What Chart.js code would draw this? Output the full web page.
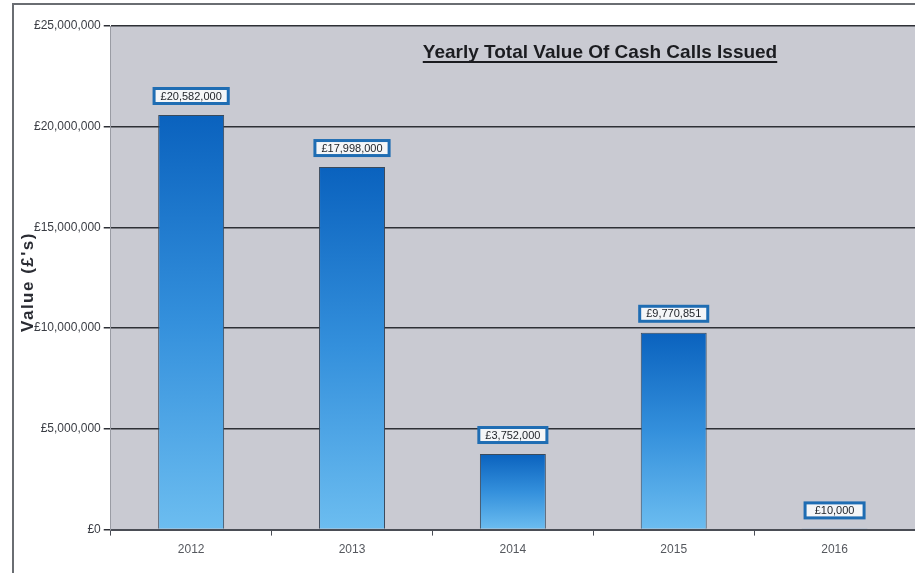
<!DOCTYPE html>
<html>
<head>
<meta charset="utf-8">
<script src="https://cdn.jsdelivr.net/npm/chart.js@4.4.1/dist/chart.umd.min.js"></script>
<style>
    html, body { margin: 0; padding: 0; background: #ffffff; }
    #wrap { width: 915px; height: 573px; position: relative; }
</style>
</head>
<body>
<div id="wrap"><canvas id="cashChart"></canvas></div>
<script>
const years = ['2012', '2013', '2014', '2015', '2016'];
const cashCallValues = [20582000, 17998000, 3752000, 9770851, 10000];
const yTicks = [0, 5000000, 10000000, 15000000, 20000000, 25000000];

const chartTitle = 'Yearly Total Value Of Cash Calls Issued';
const yAxisTitle = "Value (£'s)";

const narrowFont = '"Liberation Sans Narrow", "Arial Narrow", "Liberation Sans", Arial, sans-serif';

function money(v) {
    return '£' + v.toLocaleString('en-GB');
}

// frame, grey plot area, title and rotated axis label
const decorPlugin = {
    id: 'decor',
    beforeDraw(chart) {
        const ctx = chart.ctx;
        const a = chart.chartArea;
        ctx.save();
        ctx.strokeStyle = '#6a6d72';
        ctx.lineWidth = 2;
        ctx.beginPath();
        ctx.moveTo(13, chart.height);
        ctx.lineTo(13, 4);
        ctx.lineTo(chart.width, 4);
        ctx.stroke();
        ctx.fillStyle = '#c9cad2';
        ctx.fillRect(a.left, a.top, a.right - a.left, a.bottom - a.top);
        ctx.restore();
    },
    afterDraw(chart) {
        const ctx = chart.ctx;
        ctx.save();
        ctx.fillStyle = '#1b1c20';
        ctx.font = 'bold 19px ' + narrowFont;
        ctx.textAlign = 'center';
        ctx.textBaseline = 'alphabetic';
        const cx = 600, cy = 58;
        ctx.fillText(chartTitle, cx, cy);
        const w = ctx.measureText(chartTitle).width;
        ctx.fillRect(cx - w / 2, cy + 3, w, 2);

        ctx.translate(28, 282);
        ctx.rotate(-Math.PI / 2);
        ctx.font = 'bold 17px "Liberation Sans", Arial, sans-serif';
        ctx.letterSpacing = '1.5px';
        ctx.fillStyle = '#2a2c33';
        ctx.textBaseline = 'middle';
        ctx.fillText(yAxisTitle, 0, 0);
        ctx.restore();
    }
};

// boxed value labels above each bar
const labelPlugin = {
    id: 'valueLabels',
    afterDatasetsDraw(chart) {
        const ctx = chart.ctx;
        const meta = chart.getDatasetMeta(0);
        ctx.save();
        ctx.font = '11px ' + narrowFont;
        ctx.textAlign = 'center';
        ctx.textBaseline = 'middle';
        meta.data.forEach(function (bar, i) {
            const text = money(cashCallValues[i]);
            const w = Math.max(ctx.measureText(text).width + 16, 62);
            const h = 18;
            const cx = bar.x;
            const cy = bar.y - 19;
            ctx.fillStyle = '#1f6db3';
            ctx.fillRect(cx - w / 2, cy - h / 2, w, h);
            ctx.fillStyle = '#f4f6f8';
            ctx.fillRect(cx - w / 2 + 3, cy - h / 2 + 3, w - 6, h - 6);
            ctx.fillStyle = '#1c2026';
            ctx.fillText(text, cx, cy + 0.5);
        });
        ctx.restore();
    }
};

function barGradient(context) {
    const chart = context.chart;
    const a = chart.chartArea;
    if (!a || context.type !== 'data') return '#2a8bd8';
    const y = chart.scales.y;
    const top = y.getPixelForValue(context.raw);
    const bottom = y.getPixelForValue(0);
    if (bottom - top < 1) return '#0b63bf';
    const g = chart.ctx.createLinearGradient(0, top, 0, bottom);
    g.addColorStop(0, '#0a62be');
    g.addColorStop(0.5, '#3490dc');
    g.addColorStop(1, '#6cbdf0');
    return g;
}

new Chart(document.getElementById('cashChart'), {
    type: 'bar',
    data: {
        labels: years,
        datasets: [{
            data: cashCallValues,
            backgroundColor: barGradient,
            borderColor: '#3a4a5c',
            borderWidth: 1,
            categoryPercentage: 1,
            barPercentage: 0.41
        }]
    },
    options: {
        responsive: true,
        maintainAspectRatio: false,
        animation: false,
        layout: { padding: { top: 26, right: 0, left: 31, bottom: 9 } },
        plugins: {
            legend: { display: false },
            tooltip: { enabled: false }
        },
        scales: {
            x: {
                grid: {
                    offset: true,
                    drawOnChartArea: false,
                    tickLength: 6,
                    color: '#4a4d55'
                },
                border: { color: '#4a4d55', width: 2 },
                ticks: {
                    color: '#55585e',
                    font: { size: 12, family: '"Liberation Sans", Arial, sans-serif' },
                    padding: 7
                }
            },
            y: {
                min: 0,
                max: 25000000,
                afterBuildTicks(axis) {
                    axis.ticks = yTicks.map(function (v) { return { value: v }; });
                },
                grid: {
                    color: '#2e3036',
                    lineWidth: 1.5,
                    tickLength: 7
                },
                border: { color: '#9a9ca4', width: 1 },
                ticks: {
                    color: '#3a3d44',
                    font: { size: 12, family: narrowFont },
                    padding: 3,
                    callback: function (v) { return money(v); }
                }
            }
        }
    },
    plugins: [decorPlugin, labelPlugin]
});
</script>
</body>
</html>
